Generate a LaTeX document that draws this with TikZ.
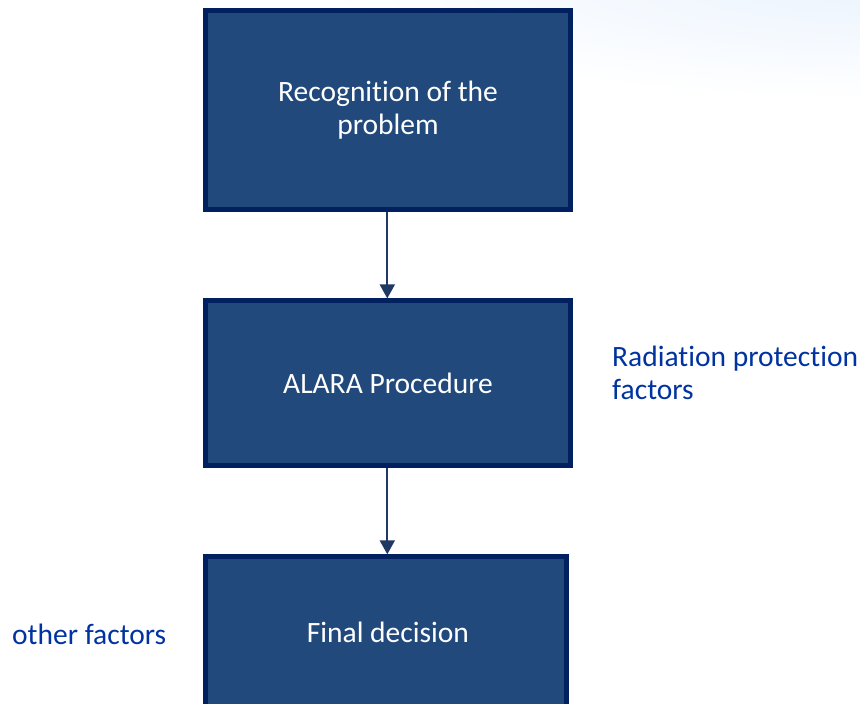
\documentclass[tikz,border=0pt]{standalone}
\usepackage{fontspec}
\setmainfont{Carlito}[Ligatures=NoCommon]
\usepackage{xcolor}
\usepackage{tikz}
\usetikzlibrary{positioning, arrows.meta}

\definecolor{boxfill}{HTML}{21497C}
\definecolor{boxline}{HTML}{002060}
\definecolor{arrowblue}{HTML}{1F3864}
\definecolor{noteblue}{HTML}{0033A0}
\definecolor{haze}{HTML}{EAF3FE}

\begin{document}
\begin{tikzpicture}[x=1pt, y=-1pt,
    stepbox/.style={draw=boxline, fill=boxfill, line width=5pt, text=white,
      align=center, font=\fontsize{29.5}{33}\selectfont, inner sep=0pt},
    note/.style={text=noteblue, align=left, anchor=west, inner sep=0pt,
      font=\fontsize{29.5}{33}\selectfont},
    flow/.style={arrowblue, line width=2pt, -{Triangle[length=14pt, width=15pt]}}
  ]
    \useasboundingbox (0,0) rectangle (860,704);
    \clip (0,0) rectangle (860,704);
    % faint haze in the upper right corner
    \shade[inner color=haze, outer color=white]
      (890,-20) ellipse [x radius=580, y radius=120];

    % flow boxes
    \node[stepbox, minimum width=364.5pt, minimum height=198.4pt] (recog) at (388,110)
      {Recognition of the\\problem};
    \node[stepbox, minimum width=364.5pt, minimum height=164.2pt] (alara) at (388,383)
      {ALARA Procedure};
    \node[stepbox, minimum width=360.7pt, minimum height=160pt] (final) at (386.2,636.8)
      {};
    \node[text=white, font=\fontsize{29.5}{33}\selectfont] (finaltxt) at (388,632) {Final decision};

    % side notes
    \node[note] (radprot) at (612,373) {Radiation protection\\factors};
    \node[note] (other) at (12,634) {other factors};

    % connectors
    \draw[flow] (recog.south -| 387.3,0) -- (alara.north -| 387.3,0);
    \draw[flow] (alara.south -| 387.3,0) -- (final.north -| 387.3,0);
  \end{tikzpicture}
\end{document}
